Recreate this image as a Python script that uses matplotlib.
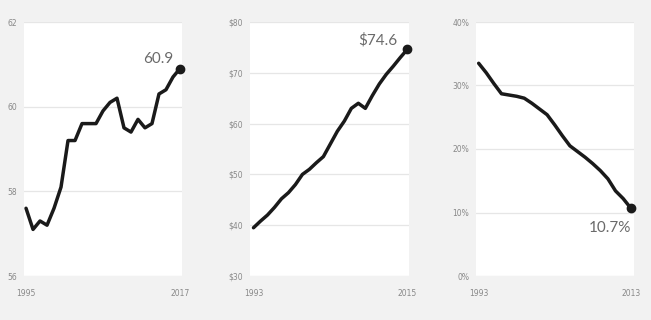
import matplotlib
matplotlib.use("Agg")
import matplotlib.pyplot as plt

# Panel 1
years1 = list(range(1995, 2018))
values1 = [57.6, 57.1, 57.3, 57.2, 57.6, 58.1, 59.2, 59.2, 59.6, 59.6, 59.6, 59.9,
           60.1, 60.2, 59.5, 59.4, 59.7, 59.5, 59.6, 60.3, 60.4, 60.7, 60.9]
yticks1 = [56, 58, 60, 62]
ylabels1 = ["56", "58", "60", "62"]

# Panel 2
years2 = list(range(1993, 2016))
values2 = [39.5, 40.8, 42.0, 43.5, 45.2, 46.4, 48.0, 50.0, 51.0, 52.3, 53.5, 56.0,
           58.5, 60.5, 63.0, 64.0, 63.0, 65.5, 67.8, 69.7, 71.3, 73.0, 74.6]
yticks2 = [30, 40, 50, 60, 70, 80]
ylabels2 = ["$30", "$40", "$50", "$60", "$70", "$80"]

# Panel 3
years3 = list(range(1993, 2014))
values3 = [33.5, 32.0, 30.3, 28.7, 28.5, 28.3, 28.0, 27.2, 26.3, 25.4, 23.8, 22.1,
           20.5, 19.6, 18.7, 17.7, 16.6, 15.3, 13.4, 12.2, 10.7]
yticks3 = [0, 10, 20, 30, 40]
ylabels3 = ["0%", "10%", "20%", "30%", "40%"]

end_labels = ["60.9", "$74.6", "10.7%"]

W, H = 651, 320
fig = plt.figure(figsize=(W / 100, H / 100), dpi=100)
fig.patch.set_facecolor("#f2f2f2")

panels = [
    dict(x=years1, y=values1, yt=yticks1, yl=ylabels1, lab=end_labels[0],
         left=24, right=182, xlim=(1994.71, 2017.29), ylim=(56, 62), off=(-5, 1.7), va="bottom"),
    dict(x=years2, y=values2, yt=yticks2, yl=ylabels2, lab=end_labels[1],
         left=250, right=409, xlim=(1992.5, 2015.25), ylim=(30, 80), off=(-7, 1.7), va="bottom"),
    dict(x=years3, y=values3, yt=yticks3, yl=ylabels3, lab=end_labels[2],
         left=476, right=634, xlim=(1992.65, 2013.43), ylim=(0, 40), off=(0, -9), va="top"),
]

top_px, bot_px = 22, 276
for p in panels:
    ax = fig.add_axes([p["left"] / W, 1 - bot_px / H, (p["right"] - p["left"]) / W,
                       (bot_px - top_px) / H])
    ax.set_facecolor("white")
    for s in ax.spines.values():
        s.set_visible(False)
    ax.set_xlim(*p["xlim"])
    ax.set_ylim(*p["ylim"])
    ax.set_yticks(p["yt"])
    ax.set_yticklabels(p["yl"])
    ax.set_xticks([p["x"][0], p["x"][-1]])
    ax.set_xticklabels([str(p["x"][0]), str(p["x"][-1])])
    ax.tick_params(length=0, labelsize=5.5, labelcolor="#888888", pad=5)
    ax.tick_params(axis="x", pad=9)
    for t in ax.get_xticklabels() + ax.get_yticklabels():
        t.set_fontfamily("Liberation Sans Narrow")
    ax.grid(axis="y", color="#e6e6e6", linewidth=0.9)
    ax.set_axisbelow(True)
    ax.plot(p["x"], p["y"], color="#1a1a1a", linewidth=2.5, solid_joinstyle="round",
            solid_capstyle="round", clip_on=False, zorder=3)
    ax.plot([p["x"][-1]], [p["y"][-1]], "o", color="#1a1a1a", markersize=6,
            clip_on=False, zorder=4)
    ax.annotate(p["lab"], (p["x"][-1], p["y"][-1]), xytext=p["off"],
                textcoords="offset points", ha="right", va=p["va"],
                fontsize=11, color="#6a6a6a", family="Lato", fontweight="normal")

fig.savefig("out.png", dpi=100, facecolor=fig.get_facecolor())
